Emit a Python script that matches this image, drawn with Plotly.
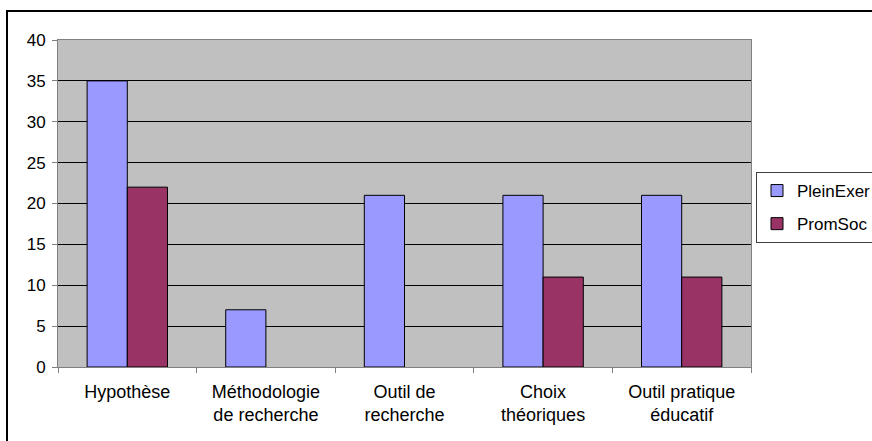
import plotly.graph_objects as go

categories = ["Hypothèse", "Méthodologie<br>de recherche", "Outil de<br>recherche",
              "Choix<br>théoriques", "Outil pratique<br>éducatif"]
plein_exer = [35, 7, 21, 21, 21]
prom_soc = [22, 0, 0, 11, 11]
y_ticks = [0, 5, 10, 15, 20, 25, 30, 35, 40]

L, R, T, B = 58, 751, 40, 367
W, H = 872, 441
pw, ph = R - L, B - T

def px(x):
    return (x - L) / pw

def py(y):
    return (B - y) / ph

def outline(vals):
    return [1 if v else 0 for v in vals]

fig = go.Figure()
fig.add_trace(go.Bar(x=categories, y=plein_exer, name="PleinExer", legendgroup="a",
                     marker=dict(color="#9999FF",
                                 line=dict(color="#000000", width=outline(plein_exer)))))
fig.add_trace(go.Bar(x=categories, y=prom_soc, name="PromSoc", legendgroup="b",
                     marker=dict(color="#993366",
                                 line=dict(color="#000000", width=outline(prom_soc)))))

fig.update_layout(
    width=W, height=H,
    margin=dict(l=L, r=W - R, t=T, b=H - B, autoexpand=False),
    paper_bgcolor="white",
    plot_bgcolor="#C0C0C0",
    barmode="group",
    bargap=0.42,
    bargroupgap=0,
    font=dict(family="Liberation Sans, Arial, sans-serif", size=17, color="black"),
    legend=dict(x=px(756), y=py(172), xanchor="left", yanchor="top",
                bordercolor="#404040", borderwidth=1, bgcolor="white",
                font=dict(size=17), itemwidth=30, tracegroupgap=8),
    xaxis=dict(type="category", showgrid=False, tickson="boundaries", ticks="outside",
               ticklen=5, tickcolor="#808080", showline=True, linecolor="#808080",
               linewidth=1, mirror=True, tickfont=dict(size=18), ticklabelstandoff=8),
    yaxis=dict(range=[0, 40], tickvals=y_ticks, showgrid=True, gridcolor="black",
               gridwidth=1, ticks="outside", ticklen=5, tickcolor="#808080",
               showline=True, linecolor="#808080", linewidth=1, mirror=True,
               zeroline=False, tickfont=dict(size=17), ticklabelstandoff=3),
    shapes=[dict(type="rect", xref="paper", yref="paper",
                 x0=px(7), x1=px(900), y0=py(470), y1=py(11),
                 line=dict(color="black", width=2), fillcolor="rgba(0,0,0,0)", layer="below")],
)

fig.write_html("out.html", config={"displayModeBar": False},
               post_script="document.body.style.margin='0';")
